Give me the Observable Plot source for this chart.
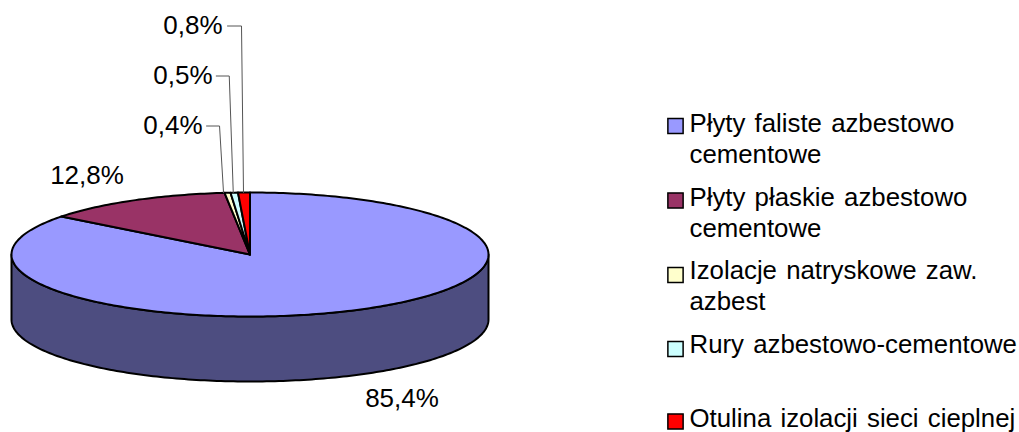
<!DOCTYPE html>
<html><head><meta charset="utf-8">
<style>html,body{margin:0;padding:0;background:#fff}svg{display:block}svg text{word-spacing:2px}</style>
<script src="https://cdn.jsdelivr.net/npm/d3@7"></script>
<script src="https://cdn.jsdelivr.net/npm/@observablehq/plot@0.6"></script>
</head><body><div id="chart"></div>
<script>
const categories = ["Płyty faliste azbestowo\ncementowe","Płyty płaskie azbestowo\ncementowe","Izolacje natryskowe zaw.\nazbest","Rury azbestowo-cementowe","Otulina izolacji sieci cieplnej"];
const shares = [85.4,12.8,0.4,0.5,0.8];
const valueLabels = ["85,4%","12,8%","0,4%","0,5%","0,8%"];
const colors = ["#9999FF","#993366","#FFFFCC","#CCFFFF","#FF0000"];
const sideColor = "#4D4D80";

// layout
const W=1019,H=432,cx=249.5,cy=254,rx=238.5,ry=62,depthPx=65;
const depth=depthPx/ry;
const legendSquareY=[125.5,200,274.5,348.5,421];
const legendBaseline=[131,205,278,352,426.3];
const labelPos=[{dx:401.5,base:406,a:"middle"},{dx:86.5,base:183,a:"middle"},{dx:202,base:133,a:"end"},{dx:212,base:83,a:"end"},{dx:222,base:33,a:"end"}];
const leaderBaseY=[null,null,125.5,75.5,25.5];
const leaderEnd=[null,null,-4,-1,-0.5];
const leaderElbow=[null,null,4,4,2];
const leaderStub=[null,null,13,13,14];
const fs=26, legendFs=25.8, legendLH=1.23;

const total=d3.sum(shares);
const pt=(f,drop=0)=>{const a=2*Math.PI*f;return {x:Math.sin(a),y:Math.cos(a)-drop};};
let cum=0;
const sliceRows=[];
const spans=categories.map((name,i)=>{
  const s=cum/total,e=(cum+shares[i])/total;cum+=shares[i];
  const n=Math.max(2,Math.ceil((e-s)*360));
  const pts=[{x:0,y:0}];
  for(let k=0;k<=n;k++)pts.push(pt(s+(e-s)*k/n));
  pts.push({x:0,y:0});
  pts.forEach(p=>sliceRows.push({...p,name}));
  return {name,s,e,mid:(s+e)/2};
});
// the visible wall: front half of the first slice
const wall=[];
d3.range(90,271).forEach(d=>wall.push(pt(d/360)));
d3.range(270,89,-1).forEach(d=>wall.push(pt(d/360,depth)));
wall.push(wall[0]);

const toX=px=>(px-cx)/rx, toY=px=>(cy-px)/ry;
const leaders=[];
spans.forEach((sp,i)=>{
  if(leaderBaseY[i]==null)return;
  const rim=pt(sp.mid);
  const endPx=cx+rim.x*rx+leaderEnd[i];
  const ex=endPx-leaderElbow[i];
  [[ex-leaderStub[i],leaderBaseY[i]],[ex,leaderBaseY[i]]].forEach(([a,b])=>leaders.push({x:toX(a),y:toY(b),i}));
  leaders.push({x:toX(endPx),y:rim.y,i});
});

const marks=[
  Plot.line(wall,{x:"x",y:"y",fill:sideColor,stroke:"black",strokeWidth:2}),
  Plot.line(sliceRows,{x:"x",y:"y",z:"name",fill:"name",stroke:"black",strokeWidth:2}),
  Plot.line(leaders,{x:"x",y:"y",z:"i",stroke:"#555",strokeWidth:1}),
];
valueLabels.forEach((t,i)=>{
  marks.push(Plot.text([t],{text:d=>d,frameAnchor:"top-left",dx:labelPos[i].dx,dy:labelPos[i].base-0.71*fs,lineAnchor:"top",textAnchor:labelPos[i].a,fontSize:fs,fill:"#000"}));
});
categories.forEach((c,i)=>{
  marks.push(Plot.dot([c],{frameAnchor:"top-left",dx:675,dy:legendSquareY[i],symbol:"square",r:8.6,fill:d=>d,stroke:"black",strokeWidth:1.5}));
  marks.push(Plot.text([c],{text:d=>d,frameAnchor:"top-left",dx:689,dy:legendBaseline[i]-0.71*legendLH*legendFs,lineAnchor:"top",textAnchor:"start",fontSize:legendFs,lineHeight:legendLH,fill:"#000"}));
});
const chart=Plot.plot({
  width:W,height:H,margin:0,
  style:{fontFamily:"Liberation Sans, Arial, sans-serif",background:"#fff"},
  x:{domain:[-1,1],range:[cx-rx,cx+rx],axis:null},
  y:{domain:[-1,1],range:[cy+ry,cy-ry],axis:null},
  color:{domain:categories,range:colors},
  marks
});
document.getElementById("chart").append(chart);
</script></body></html>
